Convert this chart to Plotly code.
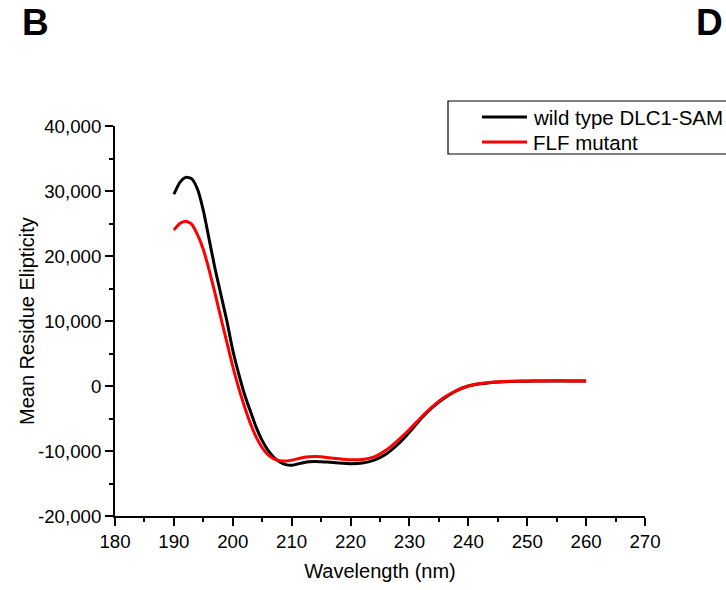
import plotly.graph_objects as go

wavelength = [190, 191, 192, 193, 194, 195, 196, 197, 198, 199, 200, 201, 202, 203, 204, 205,
              206, 207, 208, 209, 210, 211, 212, 213, 214, 215, 216, 218, 220, 222, 224, 226,
              228, 230, 232, 234, 236, 238, 240, 242, 244, 246, 248, 250, 252, 254, 256, 258, 260]

wild_type = [29500, 31300, 32100, 31900, 30300, 27000, 22500, 18000, 14000, 10000, 5500, 1900,
             -1300, -3900, -6400, -8400, -9900, -11000, -11700, -12100, -12200, -12000, -11800,
             -11650, -11600, -11650, -11700, -11850, -11950, -11850, -11400, -10500, -9000, -7100,
             -5000, -3200, -1800, -700, 0, 350, 550, 650, 720, 750, 770, 780, 780, 770, 760]

flf_mutant = [24000, 25000, 25350, 24900, 23300, 21000, 17800, 14200, 10400, 6700, 3000, -300,
              -3200, -5800, -7900, -9500, -10600, -11200, -11500, -11550, -11400, -11200, -11000,
              -10900, -10850, -10900, -11000, -11200, -11350, -11300, -10900, -9900, -8400, -6700,
              -4800, -3100, -1700, -700, 0, 380, 580, 680, 740, 770, 780, 790, 790, 780, 770]

series_names = ["wild type DLC1-SAM", "FLF mutant"]
series_colors = ["#000000", "#ff0000"]

x_ticks = [180, 190, 200, 210, 220, 230, 240, 250, 260, 270]
y_ticks = [-20000, -10000, 0, 10000, 20000, 30000, 40000]
y_tick_labels = ["-20,000", "-10,000", "0", "10,000", "20,000", "30,000", "40,000"]

FONT = "Liberation Sans, Arial, sans-serif"

W, H = 726, 590
ML, MR, MT, MB = 115, 81, 126, 74
PW, PH = W - ML - MR, H - MT - MB


def px_x(px):
    return (px - ML) / PW


def px_y(py):
    return (H - MB - py) / PH


fig = go.Figure()
for name, ys, col in zip(series_names, [wild_type, flf_mutant], series_colors):
    fig.add_trace(go.Scatter(x=wavelength, y=ys, mode="lines", name=name, showlegend=False,
                             line=dict(color=col, width=3, shape="spline", smoothing=0.6)))

# legend drawn as a framed box (partly running off the right edge, as in the original)
shapes = [dict(type="rect", xref="paper", yref="paper",
               x0=px_x(448), x1=px_x(760), y0=px_y(154), y1=px_y(101),
               line=dict(color="#000000", width=1.2), fillcolor="rgba(0,0,0,0)", layer="above")]
annotations = []
for i, (name, col) in enumerate(zip(series_names, series_colors)):
    yc = 117 + 25 * i
    shapes.append(dict(type="line", xref="paper", yref="paper",
                       x0=px_x(482), x1=px_x(527), y0=px_y(yc), y1=px_y(yc),
                       line=dict(color=col, width=3)))
    annotations.append(dict(text=name, xref="paper", yref="paper", x=px_x(531), y=px_y(yc),
                            xanchor="left", yanchor="middle", showarrow=False,
                            font=dict(family=FONT, size=20.5, color="#000000")))

annotations += [
    dict(text="<b>B</b>", xref="paper", yref="paper", x=px_x(20), y=px_y(22), xanchor="left",
         yanchor="middle", showarrow=False, font=dict(family=FONT, size=37, color="#000000")),
    dict(text="<b>D</b>", xref="paper", yref="paper", x=px_x(694), y=px_y(22), xanchor="left",
         yanchor="middle", showarrow=False, font=dict(family=FONT, size=37, color="#000000")),
    dict(text="Mean Residue Elipticity", xref="paper", yref="paper", x=px_x(27), y=0.5,
         xanchor="center", yanchor="middle", textangle=-90, showarrow=False,
         font=dict(family=FONT, size=20, color="#000000")),
]

axis_common = dict(showline=True, linecolor="#000000", linewidth=1.8, mirror=False,
                   ticks="outside", ticklen=8, tickwidth=1.5, tickcolor="#000000",
                   showgrid=False, zeroline=False,
                   tickfont=dict(family=FONT, size=18.7, color="#000000"))

fig.update_layout(
    width=W, height=H,
    margin=dict(l=ML, r=MR, t=MT, b=MB),
    paper_bgcolor="white", plot_bgcolor="white",
    font=dict(family=FONT, size=20, color="#000000"),
    showlegend=False,
    xaxis=dict(range=[180, 270], tickmode="array", tickvals=x_ticks,
               minor=dict(dtick=5, ticks="outside", ticklen=4, tickwidth=1.5,
                          tickcolor="#000000", showgrid=False),
               title=dict(text="Wavelength (nm)", font=dict(family=FONT, size=20), standoff=13),
               **axis_common),
    yaxis=dict(range=[-20000, 40000], tickmode="array", tickvals=y_ticks, ticktext=y_tick_labels,
               minor=dict(dtick=5000, ticks="outside", ticklen=4, tickwidth=1.5,
                          tickcolor="#000000", showgrid=False),
               **axis_common),
    shapes=shapes,
    annotations=annotations,
)

fig.write_html("out.html")
